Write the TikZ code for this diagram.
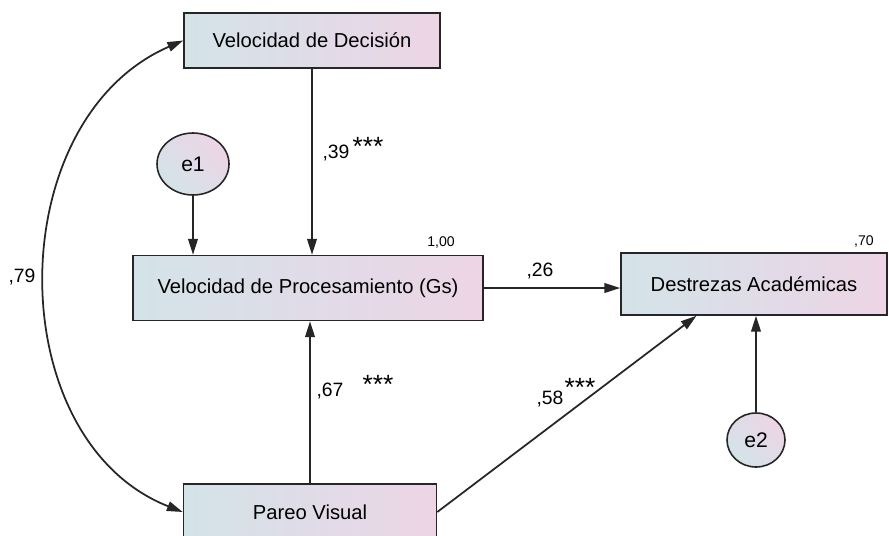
\documentclass[tikz,border=0pt]{standalone}
\usepackage{fontspec}
\setmainfont{Liberation Sans}
\usetikzlibrary{arrows.meta,calc,shapes.geometric}
\definecolor{lblue}{HTML}{D3E3E8}
\definecolor{lpink}{HTML}{EDD5E6}
\tikzset{
  varbox/.style={draw=black!85, line width=0.9pt, left color=lblue, right color=lpink,
    minimum height=#1, inner sep=0pt, font=\fontsize{11.5}{13}\selectfont, text=black},
  errnode/.style={ellipse, draw=black!85, line width=0.9pt, left color=lblue, right color=lpink, shading angle=135,
    inner sep=0pt, font=\fontsize{12}{14}\selectfont, text=black},
  pathline/.style={line width=1pt, draw=black!85, -{Triangle[length=9pt,width=5.5pt]}},
  coef/.style={font=\fontsize{11}{13}\selectfont, text=black, inner sep=0pt},
  small/.style={font=\fontsize{8}{10}\selectfont, text=black, inner sep=0pt},
  stars/.style={font=\fontsize{15}{17}\selectfont, text=black, inner sep=0pt}
}
\begin{document}
\begin{tikzpicture}[x=0.02cm,y=-0.02cm]
\useasboundingbox (0,0) rectangle (889,535);
\clip (0,0) rectangle (889,535);
\node[varbox=55*0.02cm, minimum width=256*0.02cm] (dec) at (312,40.5) {Velocidad de Decisión};
\node[varbox=65*0.02cm, minimum width=350*0.02cm] (proc) at (308,288) {Velocidad de Procesamiento (Gs)};
\node[varbox=62*0.02cm, minimum width=266*0.02cm] (dest) at (754,284) {Destrezas Académicas};
\node[varbox=56*0.02cm, minimum width=253*0.02cm] (pv) at (310,512) {Pareo Visual};
\node[errnode, minimum width=72*0.02cm, minimum height=62*0.02cm] (e1) at (193,164) {e1};
\node[errnode, minimum width=58*0.02cm, minimum height=54*0.02cm] (e2) at (756,440) {e2};

\draw[pathline] (dec.south) -- (dec.south |- proc.north);
\draw[pathline] (e1.south) -- (e1.south |- proc.north);
\draw[pathline] (pv.north) -- (pv.north |- proc.south);
\draw[pathline] (proc.east) -- (proc.east -| dest.west);
\draw[pathline] (e2.north) -- (e2.north |- dest.south);
\coordinate (d58) at ($(dest.south west)!0.285!(dest.south east)$);
\draw[pathline] (pv.east) -- (d58);
\draw[line width=1pt, draw=black!85, {Triangle[length=9pt,width=5.5pt]}-{Triangle[length=9pt,width=5.5pt]}]
  (dec.west) .. controls (0,120) and (0,440) .. (pv.west);

\node[coef] (c39) at (336,153) {,39};
\node[stars] (s39) at (368,146) {***};
\node[coef] (c67) at (330,391) {,67};
\node[stars] (s67) at (378,384) {***};
\node[coef] (c58) at (550,399) {,58};
\node[stars] (s58) at (580,387) {***};
\node[coef] (c26) at (540,271) {,26};
\node[coef] (c79) at (22,277) {,79};
\node[small] (r1) at (441,242) {1,00};
\node[small] (r2) at (864,241) {,70};
\end{tikzpicture}
\end{document}
